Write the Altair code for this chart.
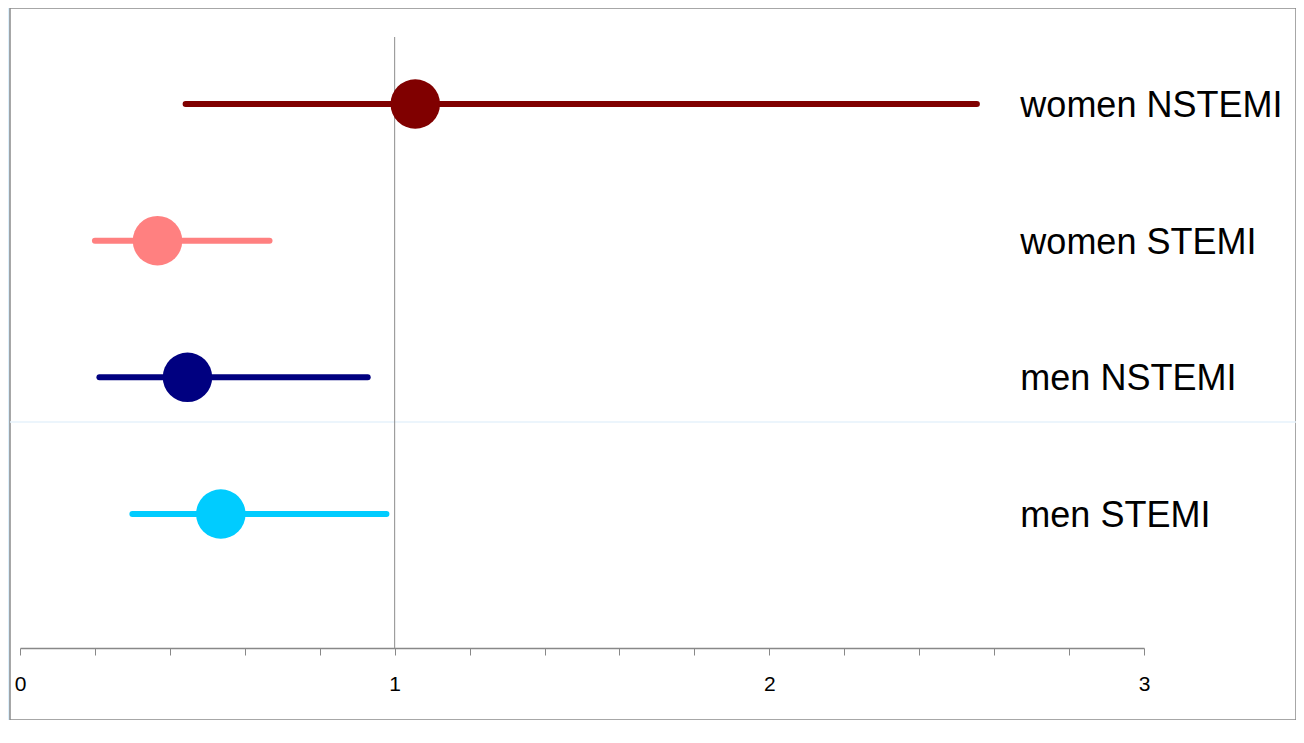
import altair as alt
import pandas as pd

labels = ["women NSTEMI", "women STEMI", "men NSTEMI", "men STEMI"]
estimate = [1.055, 0.367, 0.447, 0.536]
ci_low = [0.442, 0.200, 0.212, 0.300]
ci_high = [2.554, 0.666, 0.928, 0.978]
colors = ["#800000", "#ff8080", "#000080", "#00ccff"]
tick_values = [0, 0.2, 0.4, 0.6, 0.8, 1, 1.2, 1.4, 1.6, 1.8, 2, 2.2, 2.4, 2.6, 2.8, 3]
reference = [1]

df = pd.DataFrame({"label": labels, "est": estimate, "lo": ci_low, "hi": ci_high})
ref_df = pd.DataFrame({"ref": reference})

W, H = 1286, 712

x_scale = alt.Scale(domain=[0, 3], range=[10, 1134], nice=False, zero=False)
x_axis = alt.Axis(
    title=None, values=tick_values, grid=False,
    labelExpr="round(datum.value) == datum.value ? format(datum.value, 'd') : ''",
    domainColor="#888888", tickColor="#888888", tickSize=7, tickWidth=1,
    labelFont="Liberation Sans", labelFontSize=21, labelColor="#000000",
    labelPadding=18, labelFlush=False, offset=640 - H, domainWidth=1.3,
)
y_scale = alt.Scale(domain=labels, range=[96, 506], type="point", padding=0)
color = alt.Color("label:N", scale=alt.Scale(domain=labels, range=colors), legend=None)

faint = alt.Chart(pd.DataFrame({"a": [0]})).mark_rule(color="#e6f2fb", strokeWidth=1.5).encode(
    x=alt.value(0), x2=alt.value(W), y=alt.value(414)
)

ref_line = alt.Chart(ref_df).mark_rule(color="#8c8c8c", strokeWidth=1).encode(
    x=alt.X("ref:Q", scale=x_scale, axis=x_axis),
    y=alt.value(29), y2=alt.value(640),
)

ci = alt.Chart(df).mark_rule(strokeWidth=6, strokeCap="round").encode(
    x=alt.X("lo:Q", scale=x_scale, axis=x_axis),
    x2="hi:Q",
    y=alt.Y("label:N", scale=y_scale, axis=None),
    color=color,
)

pts = alt.Chart(df).mark_circle(size=2450, opacity=1).encode(
    x=alt.X("est:Q", scale=x_scale, axis=x_axis),
    y=alt.Y("label:N", scale=y_scale, axis=None),
    color=color,
)

txt = alt.Chart(df).mark_text(
    align="left", baseline="middle", font="Liberation Sans", fontSize=36, color="#000000", dy=2
).encode(
    x=alt.X(datum=2.67, scale=x_scale, axis=x_axis),
    y=alt.Y("label:N", scale=y_scale, axis=None),
    text="label:N",
)

chart = alt.layer(faint, ref_line, ci, pts, txt).properties(
    width=W, height=H,
    autosize=alt.AutoSizeParams(type="none"),
    padding={"left": 2, "top": 0, "right": 0, "bottom": 0},
    background="#ddf0fd",
).configure_view(
    fill="#ffffff", stroke="#8a8a8a", strokeWidth=1.5
).configure_axis(
    labelFontSize=21, labelFont="Liberation Sans"
)

chart.save("out.html", embed_options={"renderer": "svg", "actions": False})
